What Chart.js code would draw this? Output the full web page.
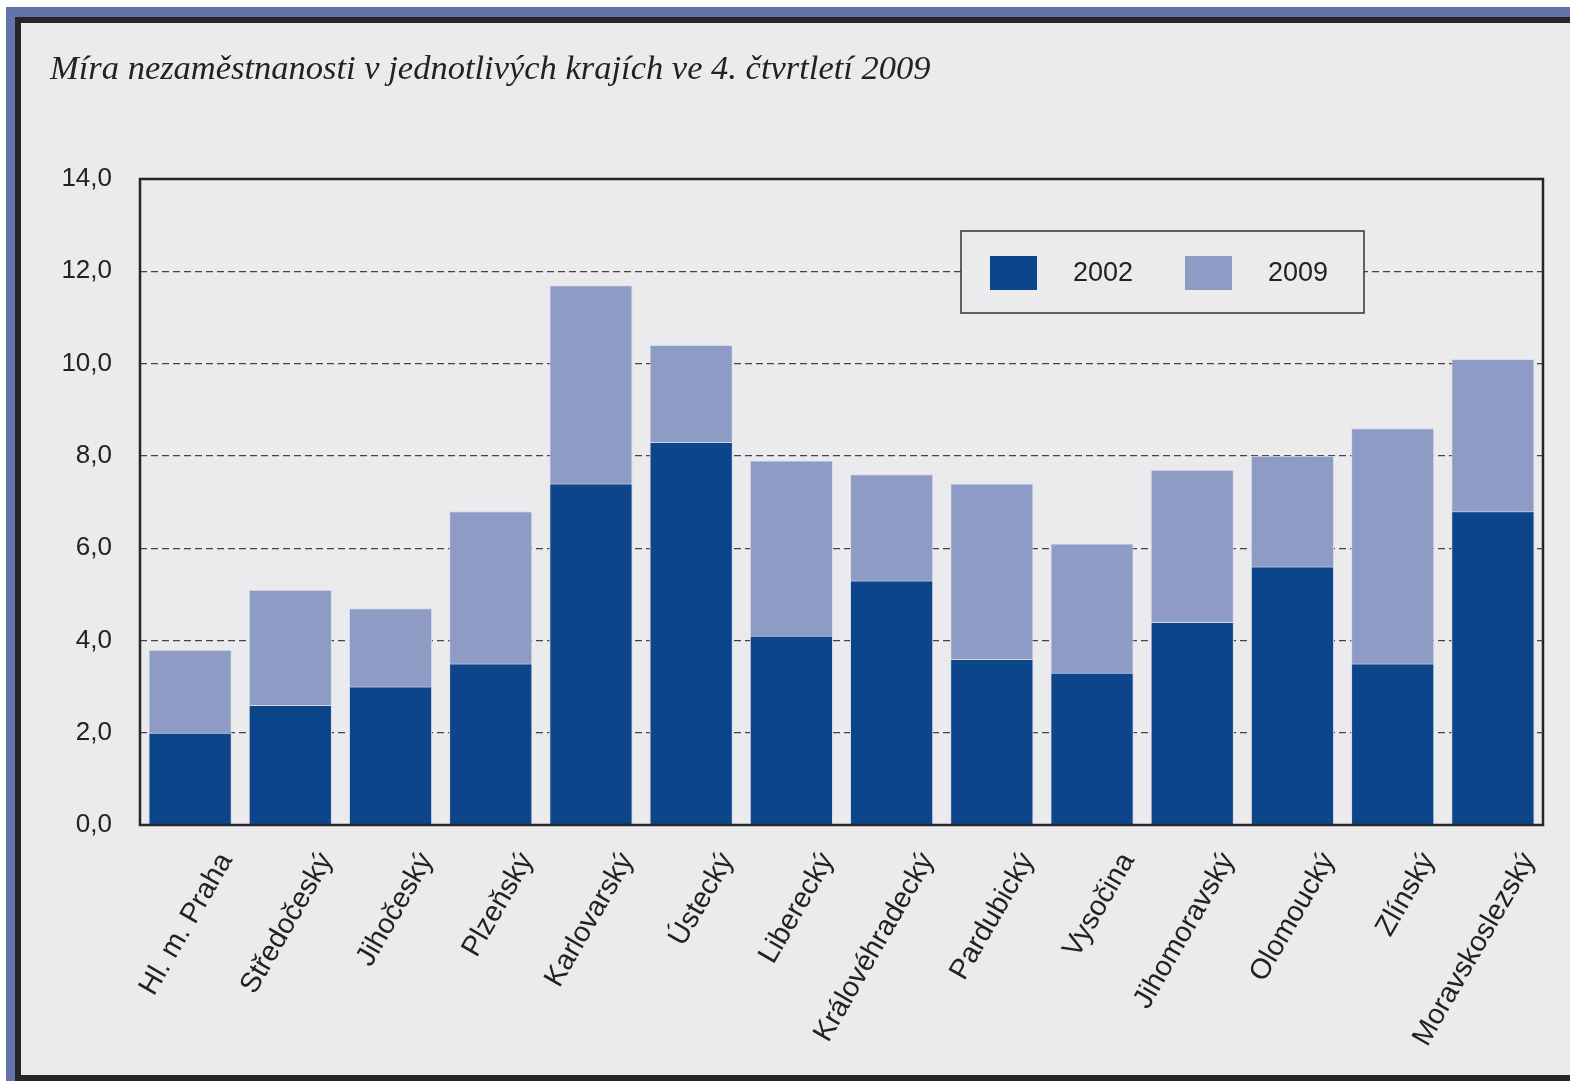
<!DOCTYPE html>
<html>
<head>
<meta charset="utf-8">
<script src="https://cdn.jsdelivr.net/npm/chart.js@4.4.1/dist/chart.umd.min.js"></script>
<style>
  html, body { margin: 0; padding: 0; background: #fff; width: 1570px; height: 1081px; overflow: hidden; }
  #outer { position: absolute; left: 6px; top: 7px; width: 1564px; height: 1074px; background: #6474aa; }
  #inner { position: absolute; left: 9px; top: 10px; right: 0; bottom: 0;
           border-top: 6px solid #262626; border-left: 6px solid #262626; border-bottom: 6px solid #262626;
           background: #ebebee; }
  #wrap { position: absolute; left: 0; top: 0; width: 1570px; height: 1081px; }
</style>
</head>
<body>
<div id="outer"><div id="inner"></div></div>
<div id="wrap"><canvas id="chart"></canvas></div>
<script>
'use strict';

var titleText = 'Míra nezaměstnanosti v jednotlivých krajích ve 4. čtvrtletí 2009';
var regions = ['Hl. m. Praha', 'Středočeský', 'Jihočeský', 'Plzeňský', 'Karlovarský', 'Ústecký',
  'Liberecký', 'Královéhradecký', 'Pardubický', 'Vysočina', 'Jihomoravský', 'Olomoucký',
  'Zlínský', 'Moravskoslezský'];
var seriesNames = ['2002', '2009'];
var values2002 = [2.0, 2.6, 3.0, 3.5, 7.4, 8.3, 4.1, 5.3, 3.6, 3.3, 4.4, 5.6, 3.5, 6.8];
var values2009 = [3.8, 5.1, 4.7, 6.8, 11.7, 10.4, 7.9, 7.6, 7.4, 6.1, 7.7, 8.0, 8.6, 10.1];
var yTicks = [0, 2, 4, 6, 8, 10, 12, 14];

var DARK = '#0c4589';
var LIGHT = '#8e9bc5';
var INK = '#222';
var SANS = '"Liberation Sans", Arial, sans-serif';

// frame round the plot + the boxed legend in the upper right
var boxAndLegend = {
  id: 'boxAndLegend',
  afterDraw: function(chart) {
    var ctx = chart.ctx, a = chart.chartArea;
    ctx.save();
    ctx.strokeStyle = '#262626';
    ctx.lineWidth = 2.5;
    ctx.strokeRect(a.left, a.top, a.right - a.left, a.bottom - a.top);

    var bx = a.right - 582, by = a.top + 52, bw = 403, bh = 82;
    ctx.fillStyle = '#ebebee';
    ctx.fillRect(bx, by, bw, bh);
    ctx.strokeStyle = '#333';
    ctx.lineWidth = 1.5;
    ctx.strokeRect(bx, by, bw, bh);

    ctx.font = '27px ' + SANS;
    ctx.textBaseline = 'middle';
    ctx.textAlign = 'left';
    chart.data.datasets.forEach(function(ds, i) {
      var sx = bx + 29 + i * 195;
      ctx.fillStyle = ds.backgroundColor;
      ctx.fillRect(sx, by + 25, 47, 34);
      ctx.fillStyle = INK;
      ctx.fillText(ds.label, sx + 83, by + 43);
    });
    ctx.restore();
  }
};

new Chart(document.getElementById('chart'), {
  type: 'bar',
  data: {
    labels: regions,
    datasets: [
      { label: seriesNames[0], data: values2002, backgroundColor: DARK,
        borderColor: 'rgba(215,220,235,0.9)', borderWidth: 1 },
      { label: seriesNames[1], data: values2009, backgroundColor: LIGHT,
        borderColor: 'rgba(215,220,235,0.9)', borderWidth: 1 }
    ]
  },
  options: {
    responsive: true,
    maintainAspectRatio: false,
    animation: false,
    layout: { padding: { left: 50, right: 27, top: 0, bottom: 0 } },
    datasets: { bar: { grouped: false, barPercentage: 0.83, categoryPercentage: 1.0 } },
    plugins: {
      legend: { display: false },
      tooltip: { enabled: false },
      title: {
        display: true,
        text: titleText,
        align: 'start',
        color: INK,
        font: { family: '"Liberation Serif", "Times New Roman", serif', style: 'italic', size: 34.5, weight: 'normal' },
        padding: { top: 49, bottom: 88.6 }
      }
    },
    scales: {
      x: {
        grid: { display: false, drawTicks: false },
        border: { display: false },
        afterFit: function(s) { s.height = 256; },
        ticks: {
          autoSkip: false, maxRotation: 60, minRotation: 60,
          labelOffset: 36, padding: 22,
          color: INK, font: { family: SANS, size: 28.5 }
        }
      },
      y: {
        min: 0, max: 14,
        afterFit: function(s) { s.width = 90; },
        afterBuildTicks: function(s) { s.ticks = yTicks.map(function(v) { return { value: v }; }); },
        grid: {
          drawTicks: false, lineWidth: 1.2,
          color: function(c) { return (c.tick.value === 0 || c.tick.value === 14) ? 'rgba(0,0,0,0)' : '#444'; }
        },
        border: { display: false, dash: [7, 4] },
        ticks: {
          padding: 28, color: INK, font: { family: SANS, size: 26 },
          callback: function(v) { return v.toFixed(1).replace('.', ','); }
        }
      }
    }
  },
  plugins: [boxAndLegend]
});
</script>
</body>
</html>
